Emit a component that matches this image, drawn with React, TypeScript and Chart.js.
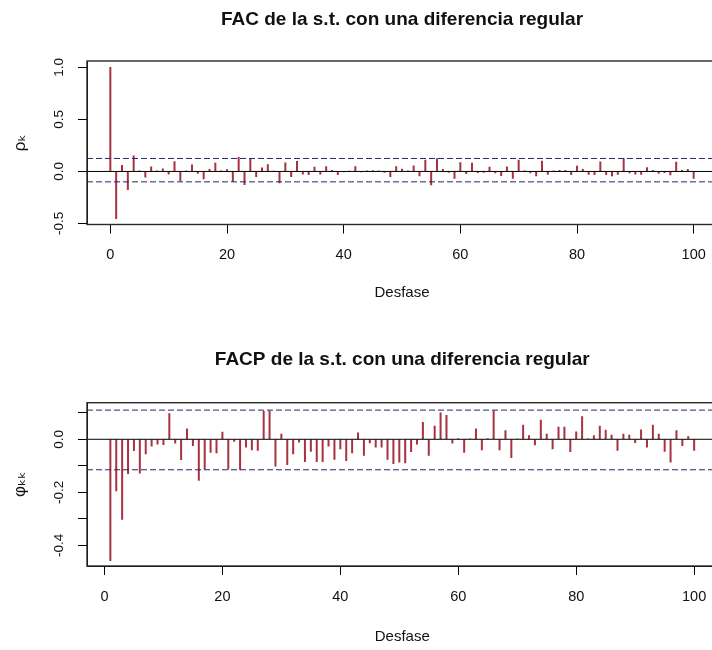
import { useEffect, useRef } from "react";
import { Chart, registerables } from "chart.js";

Chart.register(...registerables);

const FONT = "'Liberation Sans', Arial, 'DejaVu Sans', sans-serif";
const SPIKE = "#a83340";
const BAND = "#26266e";
const INK = "#111111";

// Autocorrelation (FAC), lags 0..100
const acfLags = Array.from({ length: 101 }, (_, i) => i);
const acfValues = [
  1.0, -0.455, 0.06, -0.175, 0.15, 0.005, -0.055, 0.045, 0.005, 0.025,
  -0.025, 0.095, -0.09, 0.005, 0.064, -0.02, -0.072, 0.02, 0.08, 0.005,
  0.018, -0.095, 0.135, -0.128, 0.125, -0.05, 0.035, 0.067, 0.003, -0.11,
  0.083, -0.05, 0.098, -0.027, -0.032, 0.042, -0.025, 0.047, 0.01, -0.032,
  -0.005, 0.003, 0.047, -0.005, 0.005, 0.008, 0.005, -0.01, -0.05, 0.047,
  0.022, 0.005, 0.055, -0.042, 0.11, -0.13, 0.125, 0.02, -0.01, -0.068,
  0.085, -0.022, 0.08, -0.012, -0.01, 0.042, -0.015, -0.04, 0.045, -0.068,
  0.11, 0.005, -0.015, -0.043, 0.1, -0.028, 0.005, 0.012, 0.012, -0.03,
  0.052, 0.02, -0.028, -0.032, 0.092, -0.03, -0.042, -0.028, 0.125, -0.015,
  -0.025, -0.028, 0.038, 0.012, -0.02, -0.012, -0.033, 0.09, 0.01, 0.02,
  -0.068,
];
const acfBand = [0.125, -0.1];
const acfYRange = [-0.51, 1.062];
const acfXRange = [-4, 104];
const acfYTicks = [-0.5, 0, 0.5, 1];
const acfYLabelled = [-0.5, 0, 0.5, 1];

// Partial autocorrelation (FACP), lags 1..100
const pacfLags = Array.from({ length: 100 }, (_, i) => i + 1);
const pacfValues = [
  -0.458, -0.195, -0.302, -0.13, -0.043, -0.128, -0.055, -0.026, -0.018, -0.02,
  0.097, -0.015, -0.077, 0.039, -0.024, -0.155, -0.113, -0.05, -0.051, 0.027,
  -0.113, -0.008, -0.115, -0.03, -0.04, -0.042, 0.105, 0.107, -0.101, 0.02,
  -0.096, -0.055, -0.011, -0.084, -0.046, -0.084, -0.084, -0.026, -0.076, -0.036,
  -0.081, -0.051, 0.024, -0.061, -0.014, -0.03, -0.03, -0.076, -0.092, -0.086,
  -0.089, -0.047, -0.018, 0.064, -0.061, 0.05, 0.1, 0.09, -0.015, 0.003,
  -0.05, 0.002, 0.039, -0.04, 0.003, 0.107, -0.04, 0.033, -0.069, 0.002,
  0.054, 0.014, -0.021, 0.072, 0.02, -0.036, 0.046, 0.046, -0.047, 0.028,
  0.086, 0.002, 0.014, 0.05, 0.035, 0.016, -0.042, 0.02, 0.016, -0.013,
  0.036, -0.03, 0.054, 0.02, -0.046, -0.086, 0.033, -0.024, 0.01, -0.042,
];
const pacfBand = [0.11, -0.115];
const pacfYRange = [-0.478, 0.138];
const pacfXRange = [-2.96, 103.96];
const pacfYTicks = [-0.4, -0.3, -0.2, -0.1, 0, 0.1];
const pacfYLabelled = [-0.4, -0.2, 0];

const xTicks = [0, 20, 40, 60, 80, 100];
const xTitle = "Desfase";

// Frame drawn around the plotting region, as in base R graphics
const plotBox = {
  id: "plotBox",
  afterDatasetsDraw(chart: any) {
    const { ctx, chartArea } = chart;
    ctx.save();
    ctx.strokeStyle = "#2a2a2a";
    ctx.lineWidth = 1.4;
    ctx.strokeRect(
      chartArea.left,
      chartArea.top,
      chartArea.right - chartArea.left,
      chartArea.bottom - chartArea.top
    );
    ctx.restore();
  },
};

type PanelProps = {
  title: string;
  yTitle: string;
  lags: number[];
  values: number[];
  band: number[];
  xRange: number[];
  yRange: number[];
  yTicks: number[];
  yLabelled: number[];
  top: number;
  titlePad: [number, number];
  xAxisHeight: number;
  xTitlePad: number;
  padRight: number;
};

function buildConfig(p: PanelProps): any {
  const [xMin, xMax] = p.xRange;
  const [yMin, yMax] = p.yRange;
  const hline = (y: number) => [
    { x: xMin, y },
    { x: xMax, y },
  ];
  const lineBase = { type: "line", pointRadius: 0, borderWidth: 1, tension: 0, order: 0 };
  return {
    type: "bar",
    data: {
      datasets: [
        { ...lineBase, data: hline(0), borderColor: "#000" },
        { ...lineBase, data: hline(p.band[0]), borderColor: BAND, borderDash: [6, 3] },
        { ...lineBase, data: hline(p.band[1]), borderColor: BAND, borderDash: [6, 3] },
        {
          type: "bar",
          data: p.lags.map((x, i) => ({ x, y: p.values[i] })),
          backgroundColor: SPIKE,
          borderWidth: 0,
          barThickness: 1.35,
          order: 1,
        },
      ],
    },
    options: {
      responsive: false,
      animation: false,
      events: [],
      layout: { padding: { left: 0, right: p.padRight, top: 0, bottom: 0 } },
      plugins: {
        legend: { display: false },
        tooltip: { enabled: false },
        title: {
          display: true,
          text: p.title,
          fullSize: false,
          color: INK,
          font: { family: FONT, size: 19, weight: "bold", lineHeight: 1.2 },
          padding: { top: p.titlePad[0], bottom: p.titlePad[1] },
        },
      },
      scales: {
        x: {
          type: "linear",
          min: xMin,
          max: xMax,
          offset: false,
          afterBuildTicks: (s: any) => {
            s.ticks = xTicks.map((value) => ({ value }));
          },
          afterFit: (s: any) => {
            s.height = p.xAxisHeight;
          },
          grid: { offset: false, drawOnChartArea: false, tickLength: 9, color: "#000" },
          border: { color: "#000" },
          ticks: {
            color: INK,
            font: { family: FONT, size: 14.5 },
            padding: 13,
            maxRotation: 0,
            autoSkip: false,
            callback: (v: number) => String(v),
          },
          title: {
            display: true,
            text: xTitle,
            color: INK,
            font: { family: FONT, size: 15, lineHeight: 1.2 },
            padding: { top: 0, bottom: p.xTitlePad },
          },
        },
        y: {
          type: "linear",
          min: yMin,
          max: yMax,
          afterBuildTicks: (s: any) => {
            s.ticks = p.yTicks.map((value) => ({ value }));
          },
          afterFit: (s: any) => {
            s.width = 87;
          },
          grid: { drawOnChartArea: false, tickLength: 9, color: "#000" },
          border: { color: "#000" },
          ticks: {
            color: INK,
            font: { family: FONT, size: 13.5 },
            padding: 7,
            minRotation: 90,
            maxRotation: 90,
            crossAlign: "center",
            autoSkip: false,
            callback: (v: number) =>
              p.yLabelled.some((l) => Math.abs(l - v) < 1e-9) ? v.toFixed(1) : "",
          },
          title: {
            display: true,
            text: p.yTitle,
            color: INK,
            font: { family: FONT, size: 17, lineHeight: 1.2 },
            padding: { top: 10, bottom: 0 },
          },
        },
      },
    },
    plugins: [plotBox],
  };
}

function CorrelogramPanel(p: PanelProps) {
  const ref = useRef<HTMLCanvasElement>(null);
  useEffect(() => {
    const chart = new Chart(ref.current as HTMLCanvasElement, buildConfig(p));
    return () => chart.destroy();
  }, []);
  return (
    <canvas
      ref={ref}
      width={730}
      height={325}
      style={{ position: "absolute", left: 0, top: p.top, display: "block" }}
    />
  );
}

export default function App() {
  return (
    <div
      style={{
        position: "fixed",
        left: 0,
        top: 0,
        width: 712,
        height: 650,
        overflow: "hidden",
        background: "#ffffff",
      }}
    >
      <CorrelogramPanel
        title="FAC de la s.t. con una diferencia regular"
        yTitle="ρₖ"
        lags={acfLags}
        values={acfValues}
        band={acfBand}
        xRange={acfXRange}
        yRange={acfYRange}
        yTicks={acfYTicks}
        yLabelled={acfYLabelled}
        top={0}
        titlePad={[8.6, 29.6]}
        xAxisHeight={100.5}
        xTitlePad={23}
        padRight={13}
      />
      <CorrelogramPanel
        title="FACP de la s.t. con una diferencia regular"
        yTitle="φₖₖ"
        lags={pacfLags}
        values={pacfValues}
        band={pacfBand}
        xRange={pacfXRange}
        yRange={pacfYRange}
        yTicks={pacfYTicks}
        yLabelled={pacfYLabelled}
        top={325}
        titlePad={[23.6, 31.3]}
        xAxisHeight={84}
        xTitlePad={4}
        padRight={12.5}
      />
    </div>
  );
}
